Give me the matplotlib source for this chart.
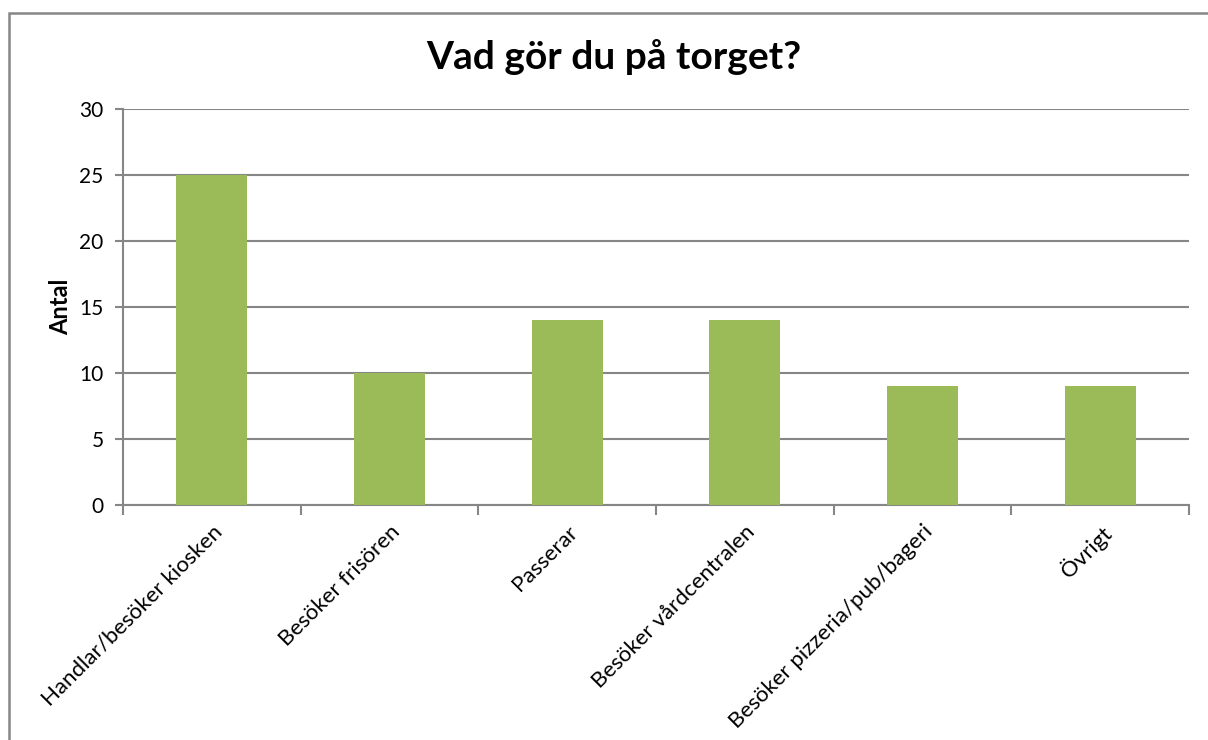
import numpy as np
import matplotlib.pyplot as plt
from matplotlib.patches import Rectangle

categories = ['Handlar/besöker kiosken', 'Besöker frisören', 'Passerar',
              'Besöker vårdcentralen', 'Besöker pizzeria/pub/bageri', 'Övrigt']
values = [25, 10, 14, 14, 9, 9]

plt.rcParams['font.family'] = ['Lato', 'DejaVu Sans']

fig = plt.figure(figsize=(12.08, 7.4), dpi=100)

# outer chart border (cropped at right and bottom in the original)
fig.patches.append(Rectangle((9 / 1208, -0.1), 1.2, 1.1 - 13 / 740,
                             transform=fig.transFigure, fill=False,
                             edgecolor='#868686', linewidth=1.8))

ax = fig.add_axes([123 / 1208, 1 - 505 / 740, (1189 - 123) / 1208, (505 - 109) / 740])

x = np.arange(len(categories))
ax.bar(x, values, width=0.4, color='#9BBB59', zorder=3)

ax.set_xlim(-0.5, len(categories) - 0.5)
ax.set_ylim(0, 30)
ax.set_yticks(np.arange(0, 31, 5))
ax.yaxis.grid(True, color='#868686', linewidth=1.5, zorder=0)

for s in ['top', 'right']:
    ax.spines[s].set_visible(False)
ax.spines['left'].set_color('#868686')
ax.spines['left'].set_linewidth(1.5)
ax.spines['bottom'].set_color('#868686')
ax.spines['bottom'].set_linewidth(1.5)

ax.tick_params(axis='y', length=6, width=1.5, color='#868686', labelsize=15, pad=8)
# x ticks at category boundaries
ax.set_xticks(np.arange(-0.5, len(categories), 1.0))
ax.set_xticklabels([])
ax.tick_params(axis='x', which='major', length=7, width=1.5, color='#868686')
ax.set_xticks(x, minor=True)
ax.set_xticklabels(categories, minor=True, rotation=45, ha='right',
                   rotation_mode='anchor', fontsize=16)
ax.tick_params(axis='x', which='minor', length=0, pad=12)

ax.set_ylabel('Antal', fontsize=17, fontweight='bold', labelpad=5)
fig.text(614 / 1208, 1 - 57 / 740, 'Vad gör du på torget?', ha='center', va='center',
         fontsize=28, fontweight='bold')

fig.savefig('out.png', dpi=100)
